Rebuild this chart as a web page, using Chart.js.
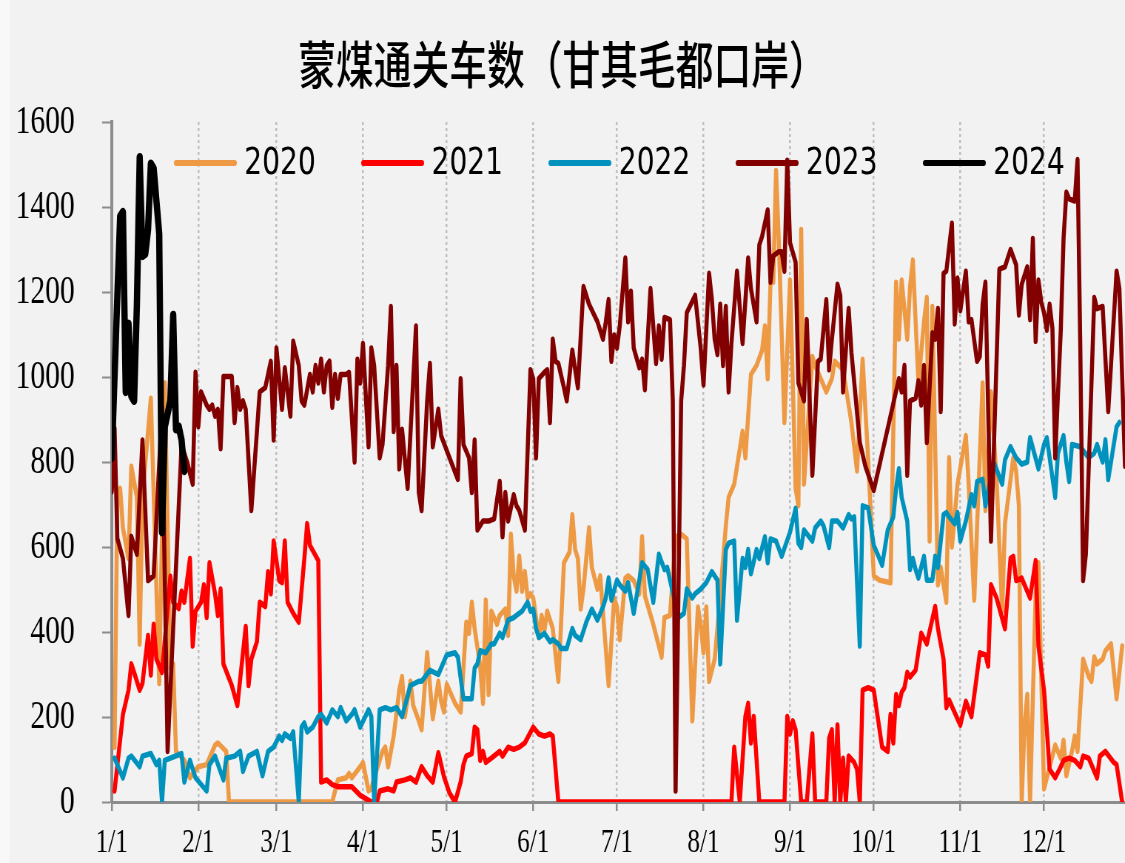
<!DOCTYPE html>
<html>
<head>
<meta charset="utf-8">
<script src="https://cdn.jsdelivr.net/npm/chart.js@4.4.1/dist/chart.umd.min.js"></script>
<style>
html, body { margin: 0; padding: 0; background: #f2f2f2; overflow: hidden; }
#wrap { width: 1520px; height: 863px; transform: scaleX(0.7401); transform-origin: 0 0; }
</style>
</head>
<body>
<div id="wrap"><canvas id="coalChart" width="1520" height="863"></canvas></div>
<script>
// day of year (0 = 1/1) and trucks per day
var monthStarts = [0, 31, 59, 90, 120, 151, 181, 212, 243, 273, 304, 334];
var monthLabels = ['1/1', '2/1', '3/1', '4/1', '5/1', '6/1', '7/1', '8/1', '9/1', '10/1', '11/1', '12/1'];
var yearLabels = ['2020', '2021', '2022', '2023', '2024'];

var trucks2020 = [[1,129],[2,727],[3,738],[4,645],[6,573],[7,790],[9,717],[10,372],[11,720],[13,872],[14,950],[17,279],[19,986],[21,315],[22,325],[23,119],[26,98],[28,57],[31,83],[34,88],[37,134],[38,139],[41,119],[42,0],[79,0],[81,52],[84,57],[85,67],[86,57],[89,83],[90,93],[92,26],[93,31],[94,57],[97,119],[98,129],[99,83],[101,155],[103,263],[104,295],[105,201],[107,284],[108,227],[110,191],[111,170],[113,351],[115,196],[117,284],[118,237],[119,212],[120,277],[123,232],[125,212],[126,315],[127,423],[128,397],[129,470],[130,408],[132,320],[133,232],[134,475],[135,253],[136,449],[138,418],[139,439],[141,454],[142,392],[143,630],[144,532],[145,496],[146,578],[147,496],[148,542],[149,480],[150,490],[151,480],[153,387],[154,439],[155,403],[156,449],[158,408],[159,346],[160,284],[162,563],[164,588],[165,676],[166,594],[167,573],[168,454],[169,501],[171,645],[172,552],[174,501],[175,532],[178,274],[180,480],[181,459],[182,382],[184,527],[185,532],[187,521],[189,490],[190,624],[191,485],[194,418],[197,341],[198,434],[200,439],[202,624],[204,630],[206,619],[208,191],[210,459],[211,418],[212,351],[213,459],[214,284],[216,336],[217,408],[220,650],[221,717],[223,748],[226,872],[227,810],[229,1006],[231,1027],[233,1063],[234,1120],[235,996],[236,1223],[237,1223],[238,1486],[239,1316],[241,893],[243,1228],[245,738],[246,697],[247,1347],[248,748],[251,1048],[252,1027],[254,996],[256,965],[258,996],[259,1037],[262,1017],[265,893],[267,779],[269,1042],[271,805],[273,532],[275,522],[279,516],[281,1223],[282,1089],[283,1228],[285,1089],[286,1213],[287,1275],[289,986],[291,1130],[292,1187],[293,614],[294,1166],[296,511],[297,552],[299,470],[300,810],[301,600],[303,748],[306,862],[307,748],[309,475],[312,986],[313,686],[315,965],[317,759],[319,449],[320,655],[323,810],[324,779],[325,697],[326,0],[327,181],[328,253],[329,0],[331,490],[332,563],[334,31],[338,134],[340,103],[341,145],[342,62],[344,119],[345,155],[346,119],[348,336],[350,295],[351,284],[352,341],[353,325],[355,336],[356,356],[358,372],[360,243],[362,367]];

var trucks2021 = [[1,26],[4,206],[6,263],[7,325],[8,305],[10,263],[11,279],[13,392],[14,299],[15,418],[16,336],[18,305],[21,531],[22,470],[24,455],[25,496],[26,470],[28,573],[29,367],[30,449],[32,470],[33,511],[34,434],[35,563],[37,490],[38,439],[39,501],[40,325],[43,274],[45,227],[48,413],[49,274],[50,336],[52,377],[53,470],[55,460],[56,542],[57,490],[58,614],[60,521],[61,516],[62,614],[63,470],[65,444],[67,423],[69,573],[70,655],[71,604],[74,568],[75,47],[77,52],[79,41],[81,36],[86,36],[89,16],[93,0],[95,0],[96,26],[99,31],[101,26],[102,47],[105,52],[107,57],[109,47],[111,83],[113,62],[115,47],[117,116],[119,60],[121,21],[123,0],[125,47],[126,88],[127,108],[129,114],[130,176],[131,170],[132,98],[133,119],[134,93],[136,103],[139,119],[140,108],[142,129],[144,124],[146,129],[148,139],[151,176],[153,160],[155,155],[157,160],[158,155],[160,0],[222,0],[223,129],[225,0],[227,201],[228,232],[229,139],[230,201],[232,0],[241,0],[242,201],[243,160],[244,191],[245,170],[247,0],[249,0],[251,160],[252,0],[256,0],[257,150],[258,170],[259,0],[260,181],[261,0],[262,103],[263,0],[264,108],[266,93],[267,77],[268,0],[269,263],[271,269],[273,263],[276,129],[278,119],[279,206],[280,139],[281,253],[282,227],[283,258],[284,269],[285,305],[286,294],[288,310],[290,397],[292,372],[295,460],[296,408],[298,336],[299,222],[300,240],[304,181],[306,237],[308,201],[311,351],[313,346],[314,320],[315,511],[317,480],[320,408],[322,573],[323,578],[324,521],[326,527],[329,480],[331,568],[332,367],[334,263],[336,77],[338,57],[340,83],[341,98],[343,103],[345,98],[347,83],[348,108],[350,103],[353,57],[354,108],[356,119],[359,93],[360,88],[362,0]];

var trucks2022 = [[1,103],[4,57],[6,103],[7,108],[10,83],[11,108],[14,114],[16,88],[17,98],[18,0],[19,98],[21,103],[25,114],[26,47],[28,98],[30,57],[34,26],[35,88],[37,108],[40,52],[41,103],[44,108],[46,119],[47,72],[49,108],[52,119],[54,62],[56,119],[58,129],[60,155],[61,145],[62,160],[64,150],[65,165],[67,0],[68,176],[69,186],[70,165],[72,176],[74,201],[75,206],[77,186],[79,217],[81,201],[82,222],[84,191],[86,206],[87,217],[89,176],[92,217],[93,201],[94,0],[96,217],[98,222],[100,217],[102,222],[104,201],[107,274],[110,284],[111,284],[114,310],[117,300],[120,346],[123,351],[124,341],[126,243],[129,243],[130,315],[131,325],[132,356],[134,351],[136,372],[137,372],[139,397],[140,387],[142,428],[144,434],[145,439],[147,449],[149,470],[150,449],[151,454],[152,408],[153,387],[155,397],[157,377],[158,382],[160,372],[161,361],[163,361],[165,408],[166,392],[168,382],[170,423],[172,454],[174,428],[176,459],[177,480],[178,527],[179,475],[181,522],[182,511],[184,496],[185,516],[187,444],[189,522],[190,563],[192,547],[194,470],[196,583],[198,547],[199,552],[203,434],[205,444],[206,501],[208,480],[209,490],[211,501],[213,516],[215,542],[217,522],[218,325],[220,594],[221,609],[223,614],[224,428],[226,573],[227,552],[228,594],[229,537],[231,594],[232,573],[234,624],[235,563],[236,619],[238,614],[240,578],[243,635],[245,691],[246,609],[247,599],[248,640],[251,614],[252,645],[254,661],[255,650],[257,599],[258,661],[260,661],[262,645],[264,676],[265,666],[266,671],[268,367],[269,697],[271,692],[273,604],[275,573],[276,557],[278,640],[280,671],[281,738],[282,784],[283,717],[285,661],[286,547],[287,573],[288,547],[289,527],[291,578],[292,522],[294,522],[295,578],[296,552],[298,676],[299,681],[300,671],[302,655],[303,681],[304,614],[306,661],[308,723],[309,697],[310,754],[312,759],[313,697],[316,800],[319,748],[320,805],[322,836],[324,810],[326,795],[328,800],[329,857],[332,784],[334,841],[335,857],[338,717],[339,821],[341,862],[342,800],[343,754],[344,841],[347,836],[350,810],[352,821],[353,841],[355,800],[356,852],[357,759],[360,883],[361,893]];

var trucks2023 = [[0,730],[1,880],[2,620],[4,573],[6,439],[7,625],[9,583],[11,852],[13,521],[15,532],[18,929],[20,119],[25,841],[27,800],[29,748],[30,1011],[31,883],[32,965],[34,934],[35,924],[36,934],[37,908],[38,924],[39,831],[40,1001],[43,1001],[44,893],[45,975],[46,924],[47,944],[48,924],[50,686],[53,965],[55,975],[57,1037],[58,852],[59,1068],[61,924],[62,1022],[64,908],[65,1084],[67,1027],[68,944],[69,934],[71,1006],[72,965],[73,1027],[74,986],[75,1042],[76,965],[77,1027],[78,1037],[79,929],[80,1006],[81,950],[82,1006],[84,1006],[85,1011],[87,800],[88,1042],[89,986],[90,1079],[92,836],[93,1068],[94,1027],[96,810],[97,841],[99,1027],[100,1166],[101,872],[102,1027],[103,784],[104,877],[106,738],[109,1120],[110,728],[111,686],[113,944],[114,1032],[115,836],[117,924],[118,862],[121,810],[124,759],[125,996],[126,841],[128,810],[129,728],[130,852],[131,640],[133,661],[135,661],[137,666],[139,754],[140,624],[141,728],[142,661],[144,723],[145,697],[146,686],[148,640],[150,1017],[151,996],[152,810],[153,996],[155,1011],[156,1017],[157,893],[158,1089],[159,1037],[160,1032],[162,975],[163,944],[165,1063],[167,975],[169,1213],[171,1171],[174,1130],[176,1089],[177,1130],[178,1182],[179,1037],[180,1099],[181,1068],[182,1120],[184,1280],[185,1130],[186,1202],[187,1068],[189,1022],[190,1042],[191,970],[193,1208],[195,1032],[196,1120],[197,1042],[198,1140],[200,1135],[201,944],[202,26],[204,944],[205,1027],[206,1151],[209,1192],[211,1068],[212,981],[214,1244],[215,1182],[216,1089],[217,1053],[218,1171],[219,1027],[220,1166],[221,965],[222,1079],[224,1249],[226,1079],[228,1280],[229,1208],[231,1130],[232,1311],[233,1331],[235,1393],[236,1223],[237,1285],[239,1295],[240,1295],[241,1249],[242,1510],[243,1316],[245,1270],[246,986],[248,944],[249,1135],[251,769],[253,1037],[254,1042],[256,1182],[257,1017],[258,1089],[260,1218],[261,1192],[262,965],[264,1161],[265,1058],[268,846],[270,790],[273,733],[282,996],[283,965],[284,1027],[285,769],[286,944],[288,950],[289,991],[290,934],[291,1027],[292,846],[294,1104],[295,1089],[296,1161],[297,919],[298,1244],[299,1249],[301,1362],[302,1125],[303,1233],[304,1156],[306,1249],[307,1130],[308,1135],[310,1037],[311,1048],[312,1171],[313,1223],[315,614],[318,1254],[320,1259],[322,1300],[324,1264],[325,1146],[326,1218],[328,1259],[329,1135],[330,1326],[331,1084],[332,1228],[333,1177],[334,1151],[335,1110],[336,1171],[337,1115],[338,810],[340,1110],[341,1326],[342,1435],[343,1419],[345,1414],[346,1512],[347,1068],[348,521],[349,583],[352,1187],[353,1161],[355,1166],[357,919],[360,1249],[361,1208],[363,790]];

var trucks2024 = [[0,810],[2,1192],[3,1378],[4,1388],[5,965],[6,1125],[7,955],[8,944],[9,1171],[10,1517],[11,1285],[12,1290],[13,1347],[14,1502],[15,1491],[17,1337],[18,635],[19,883],[21,944],[22,1146],[23,877],[24,883],[25,852],[26,779]];

var serif = '"Liberation Serif", "Times New Roman", serif';

function line(label, points, color, width, order) {
    return {
        label: label,
        data: points.map(function(p) { return { x: p[0], y: p[1] }; }),
        borderColor: color,
        backgroundColor: color,
        borderWidth: width,
        borderJoinStyle: 'round',
        borderCapStyle: 'round',
        pointRadius: 0,
        tension: 0,
        fill: false,
        order: order
    };
}

// page background, a little lighter strip at the far left
var backdrop = {
    id: 'backdrop',
    beforeDraw: function(chart) {
        var ctx = chart.ctx;
        ctx.save();
        ctx.fillStyle = '#f2f2f2';
        ctx.fillRect(0, 0, chart.width, chart.height);
        ctx.fillStyle = '#f8f8f8';
        ctx.fillRect(0, 0, 13, chart.height);
        ctx.restore();
    }
};

// legend sits inside the plot, under the top edge
var innerLegend = {
    id: 'innerLegend',
    afterDatasetsDraw: function(chart) {
        var ctx = chart.ctx;
        ctx.save();
        ctx.font = '38px "DejaVu Sans"';
        ctx.textBaseline = 'middle';
        ctx.textAlign = 'left';
        chart.data.datasets.forEach(function(ds, i) {
            var x = 238 + i * 253;
            var y = 163;
            ctx.strokeStyle = ds.borderColor;
            ctx.lineWidth = 6;
            ctx.lineCap = 'round';
            ctx.beginPath();
            ctx.moveTo(x, y);
            ctx.lineTo(x + 79, y);
            ctx.stroke();
            ctx.fillStyle = '#000';
            ctx.fillText(ds.label, x + 92, y + 1);
        });
        ctx.restore();
    }
};

window.onload = function() {
    var ctx = document.getElementById('coalChart').getContext('2d');
    var coalChart = new Chart(ctx, {
        type: 'line',
        data: {
            datasets: [
                line(yearLabels[0], trucks2020, '#EE9944', 5.5, 5),
                line(yearLabels[1], trucks2021, '#FF0000', 5.5, 4),
                line(yearLabels[2], trucks2022, '#0092BC', 5.5, 3),
                line(yearLabels[3], trucks2023, '#820000', 5.5, 2),
                line(yearLabels[4], trucks2024, '#000000', 8.5, 1)
            ]
        },
        options: {
            responsive: false,
            animation: false,
            layout: { padding: 0 },
            plugins: {
                legend: { display: false },
                tooltip: { enabled: false },
                title: {
                    display: true,
                    text: '蒙煤通关车数（甘其毛都口岸）',
                    color: '#000',
                    font: { family: '"Noto Sans CJK SC"', size: 51, weight: 500, lineHeight: 1.2 },
                    padding: { top: 34, bottom: 26.8 }
                }
            },
            scales: {
                x: {
                    type: 'linear',
                    min: 0,
                    max: 363,
                    afterBuildTicks: function(s) {
                        s.ticks = monthStarts.map(function(v) { return { value: v }; });
                    },
                    afterFit: function(s) { s.height = 59; },
                    ticks: {
                        autoSkip: false,
                        maxRotation: 0,
                        padding: 12,
                        color: '#000',
                        font: { family: serif, size: 34 },
                        callback: function(v) { return monthLabels[monthStarts.indexOf(v)]; }
                    },
                    grid: {
                        color: function(c) { return c.index === 0 ? 'rgba(0,0,0,0)' : '#bfbfbf'; },
                        lineWidth: 2.5,
                        tickLength: 9,
                        tickColor: '#8c8c8c',
                        tickWidth: 2.5,
                        tickBorderDash: []
                    },
                    border: { color: '#8c8c8c', width: 3, dash: [3, 3] }
                },
                y: {
                    min: 0,
                    max: 1600,
                    afterFit: function(s) { s.width = 151; },
                    ticks: {
                        stepSize: 200,
                        padding: 37,
                        color: '#000',
                        font: { family: serif, size: 40 },
                        callback: function(v) { return String(v); }
                    },
                    grid: {
                        drawOnChartArea: false,
                        tickLength: 13,
                        tickColor: '#8c8c8c',
                        tickWidth: 2
                    },
                    border: { color: '#8c8c8c', width: 4 }
                }
            }
        },
        plugins: [backdrop, innerLegend]
    });
};
</script>
</body>
</html>
